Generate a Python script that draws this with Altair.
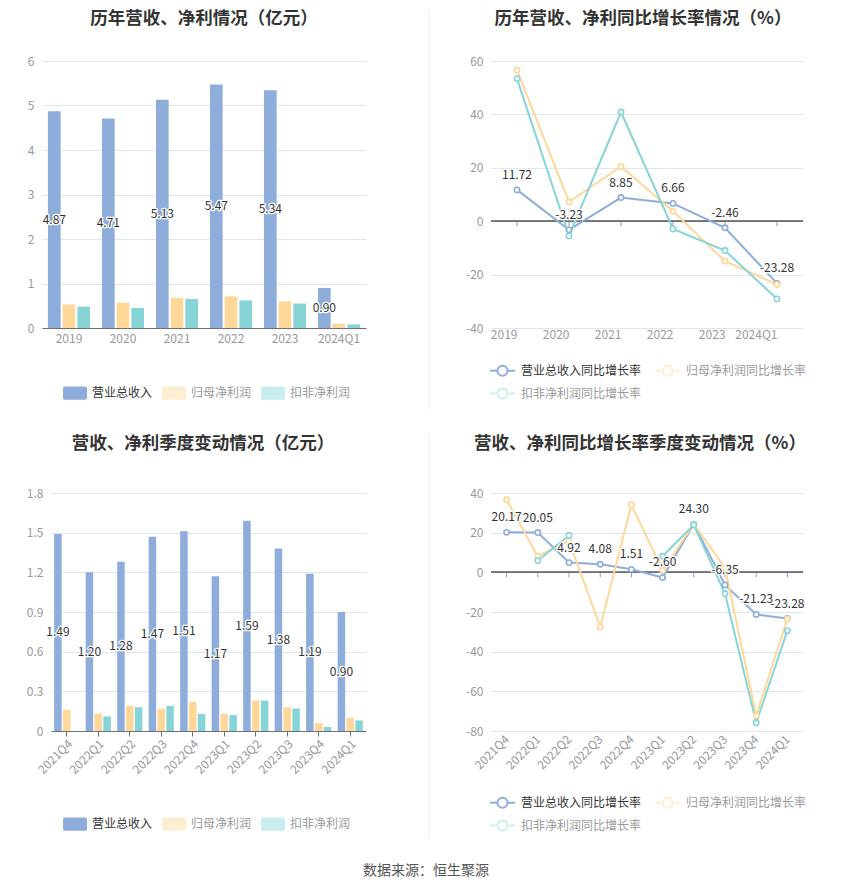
import altair as alt
import pandas as pd

# ---------------- data ----------------
years = ["2019", "2020", "2021", "2022", "2023", "2024Q1"]
rev = [4.87, 4.71, 5.13, 5.47, 5.34, 0.90]
net = [0.53, 0.57, 0.68, 0.71, 0.60, 0.10]
kf = [0.48, 0.45, 0.65, 0.62, 0.55, 0.08]

rev_yoy = [11.72, -3.23, 8.85, 6.66, -2.46, -23.28]
net_yoy = [56.6, 7.2, 20.5, 3.7, -15.0, -23.7]
kf_yoy = [53.4, -5.5, 40.9, -2.9, -11.0, -29.1]

quarters = ["2021Q4", "2022Q1", "2022Q2", "2022Q3", "2022Q4",
            "2023Q1", "2023Q2", "2023Q3", "2023Q4", "2024Q1"]
q_rev = [1.49, 1.20, 1.28, 1.47, 1.51, 1.17, 1.59, 1.38, 1.19, 0.90]
q_net = [0.16, 0.13, 0.19, 0.17, 0.22, 0.13, 0.23, 0.18, 0.06, 0.10]
q_kf = [None, 0.11, 0.18, 0.19, 0.13, 0.12, 0.23, 0.17, 0.03, 0.08]

q_rev_yoy = [20.17, 20.05, 4.92, 4.08, 1.51, -2.60, 24.30, -6.35, -21.23, -23.28]
q_net_yoy = [36.6, 8.1, 15.9, -27.5, 34.1, 1.0, 24.3, 2.2, -72.2, -23.5]
q_kf_yoy = [None, 6.0, 18.6, None, None, 8.1, 24.0, -10.7, -75.9, -29.4]

bar_series = ["营业总收入", "归母净利润", "扣非净利润"]
line_series = ["营业总收入同比增长率", "归母净利润同比增长率", "扣非净利润同比增长率"]

titles = ["历年营收、净利情况（亿元）", "历年营收、净利同比增长率情况（%）",
          "营收、净利季度变动情况（亿元）", "营收、净利同比增长率季度变动情况（%）"]
footer = "数据来源：恒生聚源"

# ---------------- style ----------------
FONT = "Noto Sans CJK SC"
colors = ["#8eaddb", "#ffd799", "#87d4d7"]
GRID = "#E0E6F1"
AXIS_DARK = "#6E7079"
LABEL = "#999999"
FIX_MINUS = "replace(datum.label, '\u2212', '-')"
RECT = ("M-0.85,-0.55H0.85A0.15,0.15,0,0,1,1,-0.4V0.4A0.15,0.15,0,0,1,0.85,0.55"
        "H-0.85A0.15,0.15,0,0,1,-1,0.4V-0.4A0.15,0.15,0,0,1,-0.85,-0.55Z")
LINESYM = "M-1,0H-0.4M0.4,0H1M0.4,0A0.4,0.4,0,1,1,-0.4,0A0.4,0.4,0,1,1,0.4,0"

ONE = pd.DataFrame({"k": [0]})


def long(cats, arrays, names):
    rows = []
    for name, arr in zip(names, arrays):
        for c, v in zip(cats, arr):
            rows.append({"cat": c, "series": name, "value": v})
    return pd.DataFrame(rows)


def title_mark(text, cx, cy):
    return alt.Chart(pd.DataFrame({"t": [text]})).mark_text(
        fontSize=17.5, fontWeight="bold", font=FONT, color="#333333",
        baseline="middle", align="center").encode(
        x=alt.value(cx), y=alt.value(cy), text="t:N")


def halo_labels(df, x, y, dy=0, xoff=None):
    enc = dict(x=x, y=y, text=alt.Text("txt:N"))
    if xoff is not None:
        enc["xOffset"] = xoff
    base = alt.Chart(df).encode(**enc)
    halo = base.mark_text(fontSize=12, font=FONT, dy=dy, fill="white",
                          stroke="white", strokeWidth=2.5, strokeJoin="round")
    fg = base.mark_text(fontSize=12, font=FONT, dy=dy, fill="#333333")
    return [halo, fg]


def bar_panel(cats, arrays, width, height, ymax, yvals, yfmt, title, tpos,
              pad_inner, off_pad, rng, angle, ticks, lpad, legend_y, first=False,
              footer_pos=None):
    df = long(cats, arrays, bar_series)
    sc = dict(domain=cats, paddingInner=pad_inner, paddingOuter=pad_inner / 2)
    shift = 0
    if rng is not None:
        sc["range"] = rng
        shift = rng[0]
    xaxis = alt.Axis(title=None, labelAngle=angle, domainColor=AXIS_DARK, ticks=ticks,
                     tickColor=AXIS_DARK, tickSize=5, labelColor=LABEL, labelFontSize=12,
                     labelPadding=lpad, grid=False)
    yaxis = alt.Axis(title=None, values=yvals, tickCount=len(yvals), format=yfmt,
                     domain=False, ticks=False, gridColor=GRID, labelColor=LABEL,
                     labelFontSize=12, labelPadding=8, labelOverlap=False, offset=-shift)
    x = alt.X("cat:N", sort=cats, scale=alt.Scale(**sc), axis=xaxis)
    y = alt.Y("value:Q", scale=alt.Scale(domain=[0, ymax], nice=False), axis=yaxis)
    xo = alt.XOffset("series:N", sort=bar_series,
                     scale=alt.Scale(domain=bar_series, paddingInner=off_pad))
    legend = alt.Legend(
        title=None, orient="none", legendX=21, legendY=legend_y, direction="horizontal",
        columns=3, padding=0, columnPadding=9, labelOffset=5, symbolType=RECT,
        symbolSize=576, symbolStrokeWidth=0, labelFont=FONT, labelFontSize=12,
        labelLimit=300,
        labelColor={"expr": "datum.label == '营业总收入' ? '#333333' : '#999999'"},
        symbolOpacity={"expr": "datum.label == '营业总收入' ? 1 : 0.45"})
    bars = alt.Chart(df).mark_bar().encode(
        x=x, y=y, xOffset=xo,
        color=alt.Color("series:N", sort=bar_series,
                        scale=alt.Scale(domain=bar_series, range=colors), legend=legend))
    lab = df[df["series"] == bar_series[0]].copy()
    lab["mid"] = lab["value"] / 2
    lab["txt"] = [f"{v:.2f}" for v in lab["value"]]
    layers = [bars] + halo_labels(
        lab, alt.X("cat:N", sort=cats, axis=alt.Axis(title=None)),
        alt.Y("mid:Q", axis=alt.Axis(title=None)),
        xoff=alt.XOffset("series:N", sort=bar_series))
    layers.append(title_mark(title, tpos[0], tpos[1]))
    if first:
        layers.append(alt.Chart(ONE).mark_rule(color="white").encode(
            x=alt.value(-33), y=alt.value(-52), y2=alt.value(-50)))
    if footer_pos is not None:
        layers.append(alt.Chart(pd.DataFrame({"t": [footer]})).mark_text(
            fontSize=14, font=FONT, color="#555555").encode(
            x=alt.value(footer_pos[0]), y=alt.value(footer_pos[1]), text="t:N"))
    return alt.layer(*layers).properties(width=width, height=height)


def line_panel(cats, arrays, width, height, ydom, yvals, title, tpos, angle, lpad,
               legend_y, divider):
    df = long(cats, arrays, line_series)
    xaxis = alt.Axis(title=None, domain=False, ticks=False, labelAngle=angle,
                     labelColor=LABEL, labelFontSize=12, labelPadding=lpad, grid=False)
    yaxis = alt.Axis(title=None, values=yvals, tickCount=len(yvals), format="d",
                     domain=False, ticks=False, gridColor=GRID, labelColor=LABEL,
                     labelFontSize=12, labelPadding=8, labelOverlap=False,
                     labelExpr=FIX_MINUS)
    x = alt.X("cat:N", sort=cats, scale=alt.Scale(type="point", domain=cats, padding=0.5),
              axis=xaxis)
    y = alt.Y("value:Q", scale=alt.Scale(domain=ydom, nice=False), axis=yaxis)
    legend = alt.Legend(
        title=None, orient="none", legendX=-2, legendY=legend_y, direction="horizontal",
        columns=2, padding=0, columnPadding=9, rowPadding=-3, labelOffset=5,
        symbolType=LINESYM, symbolSize=625, symbolStrokeWidth=2, symbolFillColor="white",
        labelFont=FONT, labelFontSize=12, labelLimit=300,
        labelColor={"expr": "datum.label == '营业总收入同比增长率' ? '#333333' : '#999999'"},
        symbolOpacity={"expr": "datum.label == '营业总收入同比增长率' ? 1 : 0.4"})
    color = alt.Color("series:N", sort=line_series,
                      scale=alt.Scale(domain=line_series, range=colors), legend=legend)
    zdf = pd.DataFrame({"cat": cats, "z": [0] * len(cats)})
    zero = alt.Chart(zdf).mark_rule(color=AXIS_DARK).encode(
        y=alt.Y("z:Q", axis=alt.Axis(title=None)))
    tks = alt.Chart(zdf).mark_tick(orient="vertical", size=5, thickness=1, yOffset=2.5,
                                   color=AXIS_DARK).encode(
        x=alt.X("cat:N", sort=cats), y=alt.Y("z:Q", axis=alt.Axis(title=None)))
    line = alt.Chart(df).mark_line(strokeWidth=2, invalid="break-paths-show-domains").encode(
        x=x, y=y, color=color)
    pts = alt.Chart(df).mark_point(filled=False, fill="white", size=28, strokeWidth=1.6,
                                   opacity=1).encode(x=x, y=y, color=color)
    lab = df[df["series"] == line_series[0]].copy()
    lab["txt"] = [f"{v:.2f}" for v in lab["value"]]
    div = alt.Chart(ONE).mark_rule(color="#eeeeee").encode(
        x=alt.value(-62), y=alt.value(divider[0]), y2=alt.value(divider[1]))
    layers = [div, zero, tks, line, pts] + halo_labels(
        lab, alt.X("cat:N", sort=cats), alt.Y("value:Q", axis=alt.Axis(title=None)), dy=-15)
    layers.append(title_mark(title, tpos[0], tpos[1]))
    return alt.layer(*layers).properties(width=width, height=height)


tl = bar_panel(years, [rev, net, kf], 324, 267, 6, [0, 1, 2, 3, 4, 5, 6], "d",
               titles[0], (162, -42), 0.22, 0.136, None, 0, False, 5, 320, first=True)
tr = line_panel(years, [rev_yoy, net_yoy, kf_yoy], 312, 267, [-40, 60],
                [-40, -20, 0, 20, 40, 60], titles[1], (152, -42), 0, 6, 296, (-52, 348))
bl = bar_panel(quarters, [q_rev, q_net, q_kf], 324, 238, 1.8,
               [0, 0.3, 0.6, 0.9, 1.2, 1.5, 1.8], ".1~f", titles[2], (161, -49), 0.2, 0.15,
               [9, 324], -45, True, 2, 319, footer_pos=(384, 378))
br = line_panel(quarters, [q_rev_yoy, q_net_yoy, q_kf_yoy], 312, 238, [-80, 40],
                [-80, -60, -40, -20, 0, 20, 40], titles[3], (149, -49), -45, 6, 296, (-60, 346))

chart = alt.concat(tl, tr, bl, br, columns=2, spacing={"row": 165, "column": 125},
                   bounds="flush", padding=0, background="white").resolve_scale(
    color="independent", x="independent", y="independent", xOffset="independent"
).resolve_legend(color="independent").configure_view(stroke="transparent").configure_axis(
    labelFont=FONT).configure_legend(labelFont=FONT)

chart.save("out.html", embed_options={"renderer": "svg", "actions": False})
